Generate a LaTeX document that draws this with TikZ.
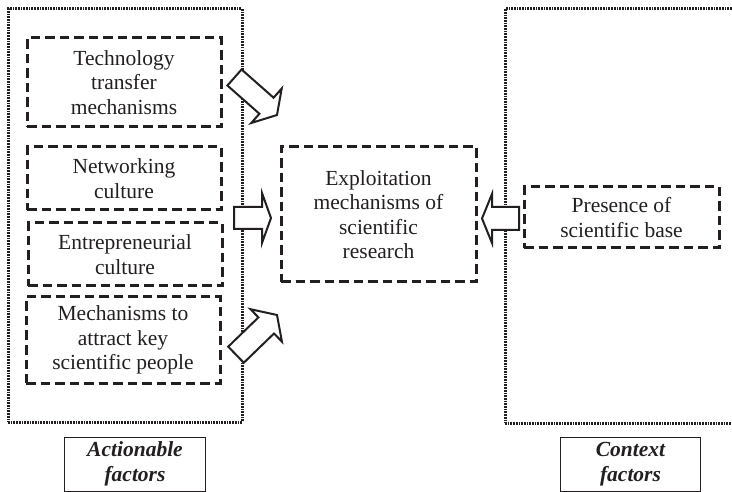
\documentclass[tikz,border=0pt]{standalone}
\usepackage{fontspec}
\setmainfont{Liberation Serif}
\usetikzlibrary{calc}
\definecolor{ink}{HTML}{231F20}

% hollow block arrow: tail, tip, shaft half-width, head half-width, head length
\newcommand\blockarr[5]{%
  \coordinate (#1-h) at ($(#2)!#5!(#1)$);
  \draw[blockarrow] ($(#1)!#3!90:(#2)$) -- ($(#1-h)!#3!90:(#2)$)
    -- ($(#1-h)!#4!90:(#2)$) -- (#2) -- ($(#1-h)!#4!-90:(#2)$)
    -- ($(#1-h)!#3!-90:(#2)$) -- ($(#1)!#3!-90:(#2)$) -- cycle;
}

\begin{document}
\begin{tikzpicture}[x=1pt,y=-1pt,
  txt/.style={text=ink, align=center, font=\fontsize{21.5}{24.5}\selectfont},
  frame/.style={draw=ink, line width=3pt, dash pattern=on 1.7pt off 1pt, inner sep=0pt},
  factor/.style={txt, draw=ink, line width=3pt, dash pattern=on 9.5pt off 5pt, inner sep=0pt},
  tag/.style={txt, draw=ink, line width=1pt, inner sep=0pt, font=\fontsize{21.5}{25}\selectfont\bfseries\itshape},
  blockarrow/.style={draw=ink, line width=2pt, fill=white, line join=miter}]
\clip (0,0) rectangle (732,492);

% group frames
\node[frame, minimum width=234, minimum height=413] (actionable) at (125,215.5) {};
\node[frame, minimum width=260, minimum height=414] (context) at (635,216) {};

% actionable factors
\node[factor, minimum width=194, minimum height=89] (tech) at (124,82.5) {Technology\\transfer\\mechanisms};
\node[factor, minimum width=194, minimum height=63] (net) at (124,178.5) {Networking\\culture};
\node[factor, minimum width=194, minimum height=63] (entre) at (125,254.5) {Entrepreneurial\\culture};
\node[factor, minimum width=194, minimum height=86] (people) at (123,340) {Mechanisms to\\attract key\\scientific people};

% central outcome
\node[factor, minimum width=195, minimum height=135] (exploit) at (378.5,214.5) {Exploitation\\mechanisms of\\scientific\\research};

% context factor
\node[factor, minimum width=195, minimum height=61] (base) at (621.5,217.5) {Presence of\\scientific base};

% group captions
\node[tag, minimum width=141, minimum height=54] (actlabel) at (135,464) {Actionable\\factors};
\node[tag, minimum width=140, minimum height=54] (ctxlabel) at (630.5,464) {Context\\factors};

% arrow ends
\coordinate (a1) at (234.5,77.5);   \coordinate (a1t) at (277,115);
\coordinate (a2) at (234,218);      \coordinate (a2t) at (271,218);
\coordinate (a3) at (519,218.5);    \coordinate (a3t) at (482,218.5);
\coordinate (a4) at (236,354.7);    \coordinate (a4t) at (277,315);

\blockarr{a1}{a1t}{10.7pt}{23pt}{14pt}
\blockarr{a2}{a2t}{11pt}{25pt}{9pt}
\blockarr{a3}{a3t}{11.5pt}{24.5pt}{10pt}
\blockarr{a4}{a4t}{11.2pt}{22.6pt}{15pt}
\end{tikzpicture}
\end{document}
